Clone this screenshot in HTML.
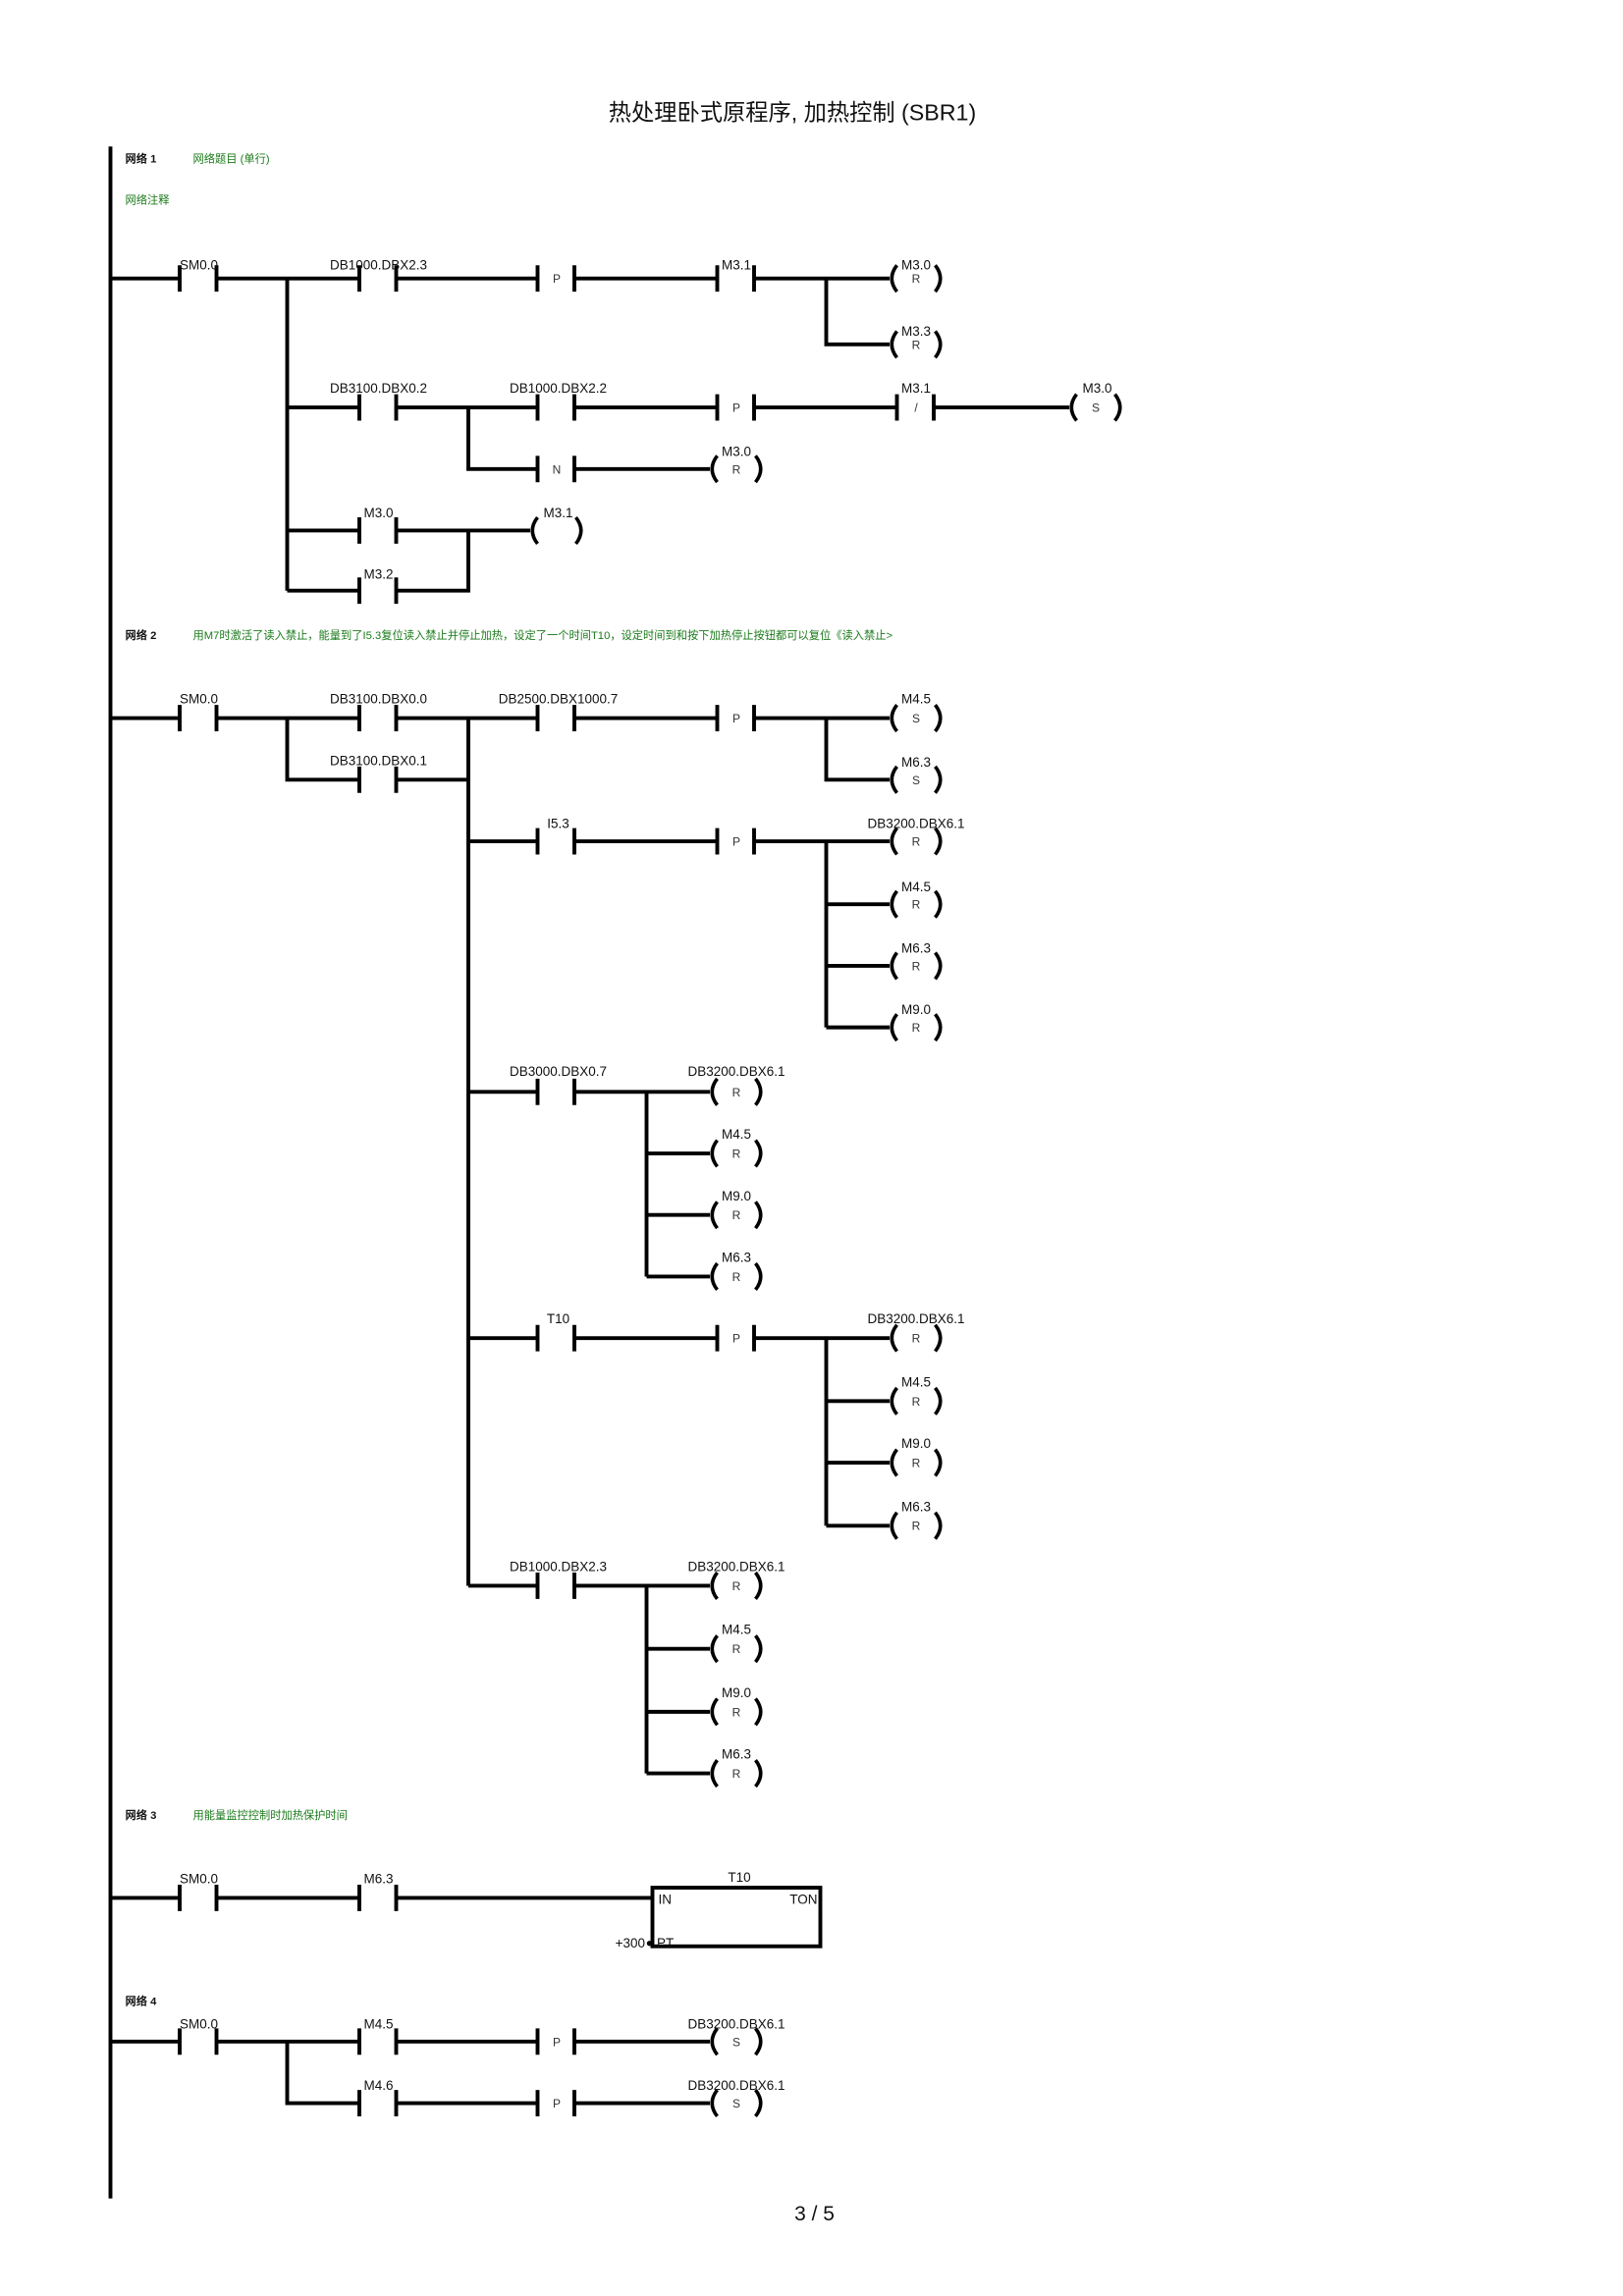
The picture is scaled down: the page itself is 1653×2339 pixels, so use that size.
<!DOCTYPE html>
<html><head><meta charset="utf-8"><style>
html,body{margin:0;padding:0;background:#fff;}
svg{display:block;}
text{font-family:"Liberation Sans","Noto Sans CJK SC",sans-serif;}
.l{font-size:9px;fill:#111;text-anchor:middle;}
.c{font-size:8px;fill:#333;text-anchor:middle;}
.g{font-size:7.5px;fill:#1a7a1a;}
.n{font-size:7.5px;fill:#111;font-weight:bold;}
</style></head><body>
<svg width="1653" height="2339" viewBox="0 0 1102 1566.6" preserveAspectRatio="none" xmlns="http://www.w3.org/2000/svg">
<text x="538" y="82" style="font-size:15.5px;text-anchor:middle;fill:#111">热处理卧式原程序, 加热控制 (SBR1)</text>
<text x="553" y="1515" style="font-size:14px;text-anchor:middle;fill:#111">3 / 5</text>
<g stroke="#000" stroke-width="2.6" fill="none">
<path d="M75,100V1500"/>
<path d="M75,190H122M147,190H244M269,190H365M390,190H487M512,190H604M561,190V235H604M195,190V403M195,278H244M269,278H365M318,278V320H365M390,278H487M512,278H609M634,278H726M390,320H482M195,362H244M269,362H360M195,403H244M269,403H318V362"/>
<path d="M75,490H122M147,490H244M269,490H365M390,490H487M512,490H604M561,490V532H604M195,490V532H244M269,532H318M318,490V1082M318,574H365M390,574H487M512,574H604M561,574V701M561,617H604M561,659H604M561,701H604M318,745H365M390,745H482M439,745V871M439,787H482M439,829H482M439,871H482M318,913H365M390,913H487M512,913H604M561,913V1041M561,956H604M561,998H604M561,1041H604M318,1082H365M390,1082H482M439,1082V1210M439,1125H482M439,1168H482M439,1210H482"/>
<path d="M75,1295H122M147,1295H244M269,1295H443M75,1393H122M147,1393H244M269,1393H365M390,1393H482M195,1393V1435H244M269,1435H365M390,1435H482"/>
<rect x="443" y="1288" width="114" height="40"/>
<path d="M122,181V199M147,181V199M244,181V199M269,181V199M365,181V199M390,181V199M487,181V199M512,181V199
M244,269V287M269,269V287M365,269V287M390,269V287M487,269V287M512,269V287M609,269V287M634,269V287
M365,311V329M390,311V329M244,353V371M269,353V371M244,394V412M269,394V412
M122,481V499M147,481V499M244,481V499M269,481V499M365,481V499M390,481V499M487,481V499M512,481V499
M244,523V541M269,523V541M365,565V583M390,565V583M487,565V583M512,565V583
M365,736V754M390,736V754M365,904V922M390,904V922M487,904V922M512,904V922M365,1073V1091M390,1073V1091
M122,1286V1304M147,1286V1304M244,1286V1304M269,1286V1304
M122,1384V1402M147,1384V1402M244,1384V1402M269,1384V1402M365,1384V1402M390,1384V1402
M244,1426V1444M269,1426V1444M365,1426V1444M390,1426V1444"/>
<path stroke-width="2.4" d="
M609,181Q602,190 609,199M635,181Q642,190 635,199
M609,226Q602,235 609,244M635,226Q642,235 635,244
M731,269Q724,278 731,287M757,269Q764,278 757,287
M487,311Q480,320 487,329M513,311Q520,320 513,329
M365,353Q358,362 365,371M391,353Q398,362 391,371
M609,481Q602,490 609,499M635,481Q642,490 635,499
M609,523Q602,532 609,541M635,523Q642,532 635,541
M609,565Q602,574 609,583M635,565Q642,574 635,583
M609,608Q602,617 609,626M635,608Q642,617 635,626
M609,650Q602,659 609,668M635,650Q642,659 635,668
M609,692Q602,701 609,710M635,692Q642,701 635,710
M487,736Q480,745 487,754M513,736Q520,745 513,754
M487,778Q480,787 487,796M513,778Q520,787 513,796
M487,820Q480,829 487,838M513,820Q520,829 513,838
M487,862Q480,871 487,880M513,862Q520,871 513,880
M609,904Q602,913 609,922M635,904Q642,913 635,922
M609,947Q602,956 609,965M635,947Q642,956 635,965
M609,989Q602,998 609,1007M635,989Q642,998 635,1007
M609,1032Q602,1041 609,1050M635,1032Q642,1041 635,1050
M487,1073Q480,1082 487,1091M513,1073Q520,1082 513,1091
M487,1116Q480,1125 487,1134M513,1116Q520,1125 513,1134
M487,1159Q480,1168 487,1177M513,1159Q520,1168 513,1177
M487,1201Q480,1210 487,1219M513,1201Q520,1210 513,1219
M487,1384Q480,1393 487,1402M513,1384Q520,1393 513,1402
M487,1426Q480,1435 487,1444M513,1426Q520,1435 513,1444"/>
</g>
<circle cx="441" cy="1326" r="1.8" fill="#000"/>
<text class="n" x="85" y="111">网络 1</text><text class="g" x="131" y="111">网络题目 (单行)</text>
<text class="g" x="85" y="139">网络注释</text>
<text class="n" x="85" y="436">网络 2</text><text class="g" x="131" y="436">用M7时激活了读入禁止，能量到了I5.3复位读入禁止并停止加热，设定了一个时间T10，设定时间到和按下加热停止按钮都可以复位《读入禁止&gt;</text>
<text class="n" x="85" y="1241">网络 3</text><text class="g" x="131" y="1241">用能量监控控制时加热保护时间</text>
<text class="n" x="85" y="1368">网络 4</text>
<text class="l" x="135" y="184">SM0.0</text><text class="l" x="257" y="184">DB1000.DBX2.3</text><text class="l" x="500" y="184">M3.1</text>
<text class="l" x="622" y="184">M3.0</text><text class="l" x="622" y="229">M3.3</text>
<text class="l" x="257" y="268">DB3100.DBX0.2</text><text class="l" x="379" y="268">DB1000.DBX2.2</text><text class="l" x="622" y="268">M3.1</text><text class="l" x="745" y="268">M3.0</text>
<text class="l" x="500" y="311">M3.0</text><text class="l" x="257" y="353">M3.0</text><text class="l" x="379" y="353">M3.1</text><text class="l" x="257" y="395">M3.2</text>
<text class="c" x="378" y="193">P</text><text class="c" x="500" y="281">P</text><text class="c" x="622" y="281">/</text><text class="c" x="378" y="323">N</text>
<text class="c" x="622" y="193">R</text><text class="c" x="622" y="238">R</text><text class="c" x="744" y="281">S</text><text class="c" x="500" y="323">R</text>
<text class="l" x="135" y="480">SM0.0</text><text class="l" x="257" y="480">DB3100.DBX0.0</text><text class="l" x="379" y="480">DB2500.DBX1000.7</text>
<text class="l" x="622" y="480">M4.5</text><text class="l" x="622" y="523">M6.3</text><text class="l" x="257" y="522">DB3100.DBX0.1</text>
<text class="c" x="500" y="493">P</text><text class="c" x="622" y="493">S</text><text class="c" x="622" y="535">S</text>
<text class="l" x="379" y="565">I5.3</text><text class="c" x="500" y="577">P</text>
<text class="l" x="622" y="565">DB3200.DBX6.1</text><text class="l" x="622" y="608">M4.5</text><text class="l" x="622" y="650">M6.3</text><text class="l" x="622" y="692">M9.0</text>
<text class="c" x="622" y="577">R</text><text class="c" x="622" y="620">R</text><text class="c" x="622" y="662">R</text><text class="c" x="622" y="704">R</text>
<text class="l" x="379" y="734">DB3000.DBX0.7</text>
<text class="l" x="500" y="734">DB3200.DBX6.1</text><text class="l" x="500" y="777">M4.5</text><text class="l" x="500" y="819">M9.0</text><text class="l" x="500" y="861">M6.3</text>
<text class="c" x="500" y="748">R</text><text class="c" x="500" y="790">R</text><text class="c" x="500" y="832">R</text><text class="c" x="500" y="874">R</text>
<text class="l" x="379" y="903">T10</text><text class="c" x="500" y="916">P</text>
<text class="l" x="622" y="903">DB3200.DBX6.1</text><text class="l" x="622" y="946">M4.5</text><text class="l" x="622" y="988">M9.0</text><text class="l" x="622" y="1031">M6.3</text>
<text class="c" x="622" y="916">R</text><text class="c" x="622" y="959">R</text><text class="c" x="622" y="1001">R</text><text class="c" x="622" y="1044">R</text>
<text class="l" x="379" y="1072">DB1000.DBX2.3</text>
<text class="l" x="500" y="1072">DB3200.DBX6.1</text><text class="l" x="500" y="1115">M4.5</text><text class="l" x="500" y="1158">M9.0</text><text class="l" x="500" y="1200">M6.3</text>
<text class="c" x="500" y="1085">R</text><text class="c" x="500" y="1128">R</text><text class="c" x="500" y="1171">R</text><text class="c" x="500" y="1213">R</text>
<text class="l" x="135" y="1285">SM0.0</text><text class="l" x="257" y="1285">M6.3</text><text class="l" x="502" y="1284">T10</text>
<text class="l" x="447" y="1299" style="text-anchor:start">IN</text><text class="l" x="555" y="1299" style="text-anchor:end">TON</text>
<text class="l" x="438" y="1329" style="text-anchor:end">+300</text><text class="l" x="446" y="1329" style="text-anchor:start">PT</text>
<text class="l" x="135" y="1384">SM0.0</text><text class="l" x="257" y="1384">M4.5</text><text class="l" x="500" y="1384">DB3200.DBX6.1</text>
<text class="l" x="257" y="1426">M4.6</text><text class="l" x="500" y="1426">DB3200.DBX6.1</text>
<text class="c" x="378" y="1396">P</text><text class="c" x="500" y="1396">S</text><text class="c" x="378" y="1438">P</text><text class="c" x="500" y="1438">S</text>
</svg>
</body></html>
